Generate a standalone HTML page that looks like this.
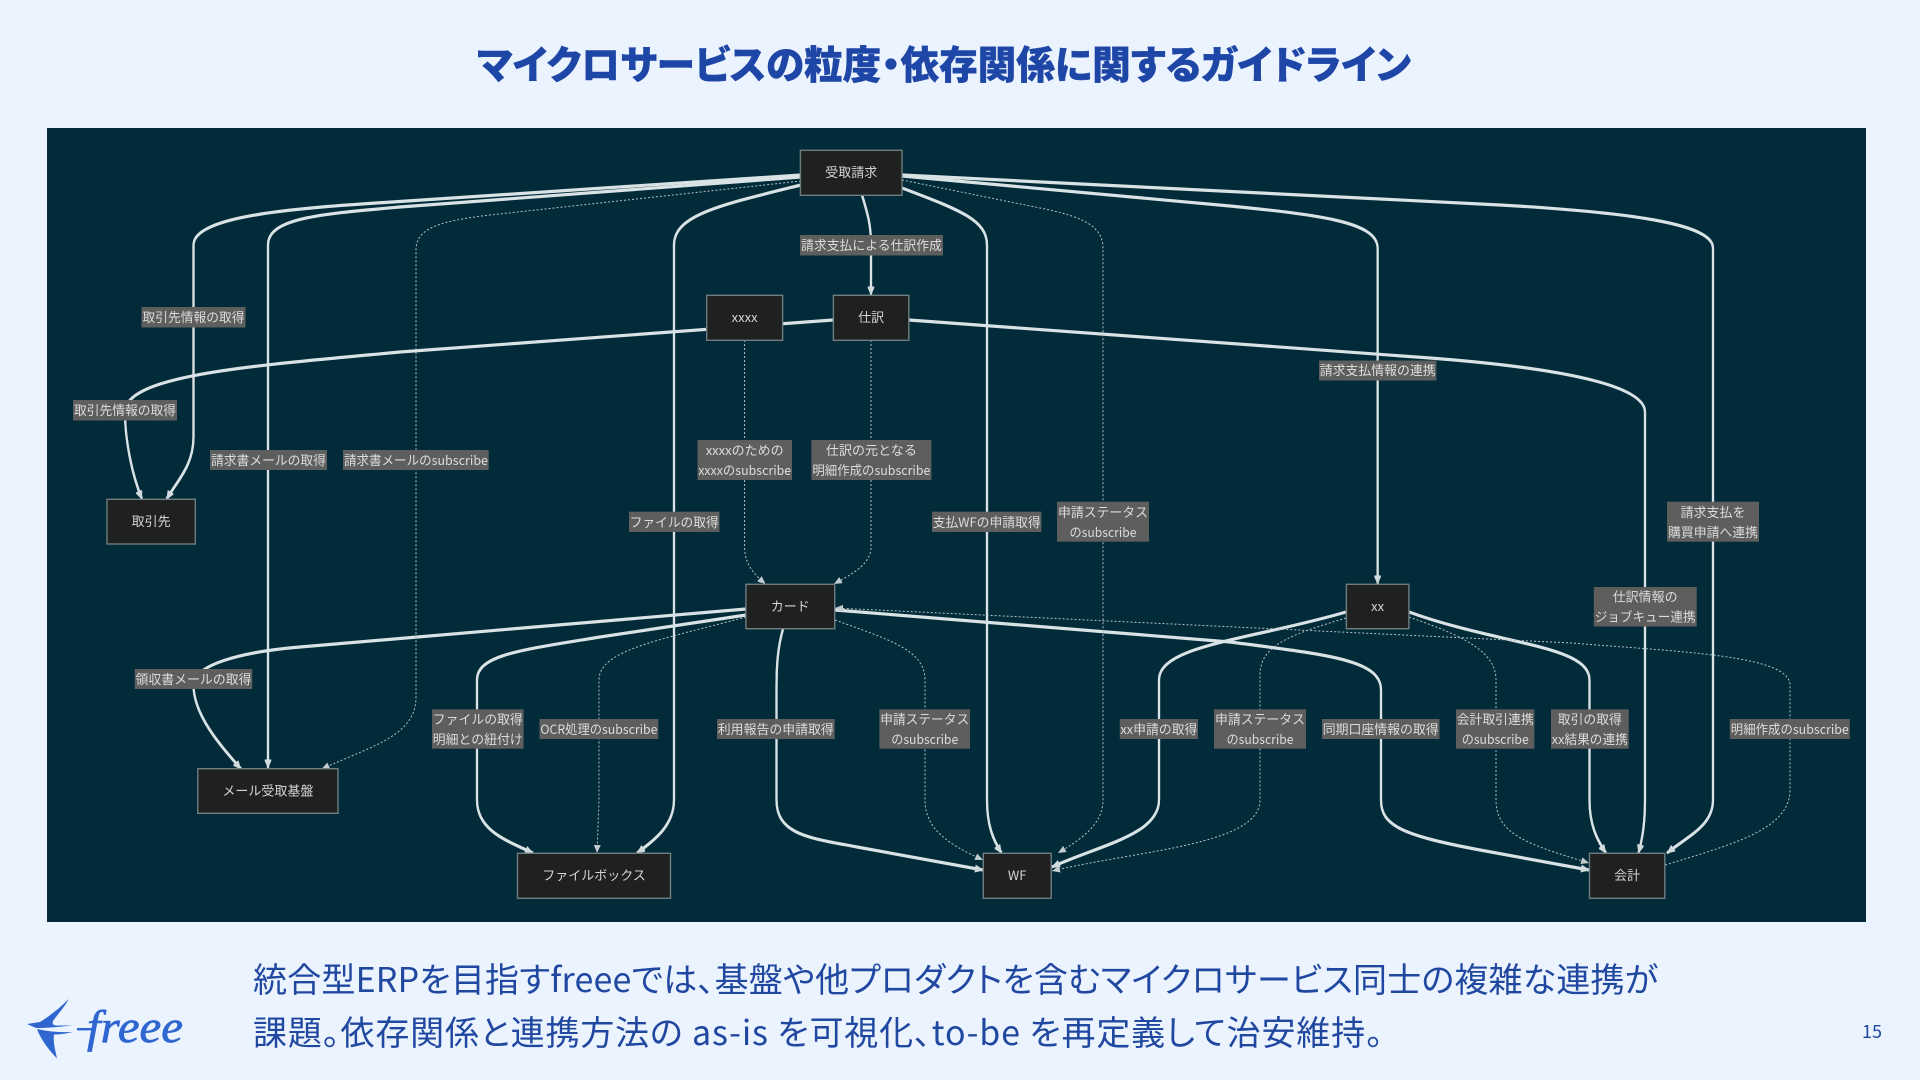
<!DOCTYPE html>
<html lang="ja"><head><meta charset="utf-8"><title>マイクロサービスの粒度・依存関係に関するガイドライン</title>
<style>
html,body{margin:0;padding:0;width:1920px;height:1080px;overflow:hidden;background:#eaf3fe}
svg{display:block}
text{font-family:"Noto Sans CJK JP","Liberation Sans",sans-serif}
.p{font-feature-settings:"palt"}
.s{fill:none;stroke:#d9e2e5;stroke-width:2.2}
.d{fill:none;stroke:#b4c2c6;stroke-width:1;stroke-dasharray:2 2}
.n rect{fill:#1f2020;stroke:#6f7d80;stroke-width:1.4}
.n text{fill:#d4d4d4;font-size:13px;text-anchor:middle}
.l rect{fill:#5e5e5e}
.l text{fill:#dcdcdc;font-size:13px;text-anchor:middle}
</style></head><body>
<svg width="1920" height="1080" viewBox="0 0 1920 1080" xmlns="http://www.w3.org/2000/svg">
<defs>
<marker id="a" markerUnits="userSpaceOnUse" markerWidth="10" markerHeight="10" refX="8" refY="4" orient="auto"><path d="M0 0.5L8 4L0 7.5Z" fill="#d0d9dc"/></marker>
<marker id="b" markerUnits="userSpaceOnUse" markerWidth="10" markerHeight="10" refX="8" refY="4" orient="auto"><path d="M0 0.5L8 4L0 7.5Z" fill="#c2cdd0"/></marker>
</defs>
<rect width="1920" height="1080" fill="#eaf3fe"/>
<text class="p" x="477" y="79" font-size="39" font-weight="900" fill="#1e46a6" stroke="#1e46a6" stroke-width="0.4" textLength="934" lengthAdjust="spacingAndGlyphs">マイクロサービスの粒度・依存関係に関するガイドライン</text>
<rect x="47" y="128" width="1819" height="794" fill="#022b39"/>

<g id="sol" marker-end="url(#a)" class="s" transform="translate(0,-0.5)">
<path class="s" d="M801 175L392 202C300 208 193.5 215 193.5 245V437C193.5 465 178 480 166.6 499"/>
<path class="s" d="M801 177L400 207C320 214 268 218 268 245V768"/>
<path class="s" d="M801 185C720 205 674 215 674 245V800C674 825 655 840 637 853"/>
<path class="s" d="M862 195C868 215 871 225 871 245V295"/>
<path class="s" d="M833 320L400 352C250 366 125 375 125 412C125 440 132 475 142 499"/>
<path class="s" d="M902 188C960 210 987 220 987 245V800C987 825 993 840 1001.6 853"/>
<path class="s" d="M902 176L1230 206C1320 215 1377.6 222 1377.6 248V584"/>
<path class="s" d="M902 175L1500 205C1640 213 1713 225 1713 248V800C1713 825 1690 835 1667 853"/>
<path class="s" d="M909 320L1430 358C1560 368 1645 385 1645 412V800C1645 825 1642 840 1638.5 853"/>
<path class="s" d="M746 609L300 647C240 652 193.5 665 193.5 685C193.5 715 220 745 241 769"/>
<path class="s" d="M746 615L600 637C520 650 477 655 477 680V800C477 830 505 840 533 853"/>
<path class="s" d="M783 629C777 650 776.5 670 776.5 690V800C776.5 835 810 838 857 847L983 870"/>
<path class="s" d="M835 610L1230 642C1330 655 1381 660 1381 690V800C1381 825 1400 835 1480 850L1589 870"/>
<path class="s" d="M1346 612C1250 640 1159 645 1159 680V800C1159 835 1100 845 1052 867"/>
<path class="s" d="M1409 612C1500 645 1589.5 645 1589.5 680V800C1589.5 825 1597 840 1606 853"/>
</g>
<use href="#sol" transform="translate(0,1)"/>
<g marker-end="url(#b)" class="d">
<path class="d" d="M801 181L490 215C440 221 416 228 416 250V697C416 735 375 745 321.5 769"/>
<path class="d" d="M902 180L1040 208C1080 216 1103 225 1103 248V800C1103 825 1080 840 1058 853"/>
<path class="d" d="M744.6 340V547C744.6 565 755 575 765.5 584"/>
<path class="d" d="M871 340V547C871 565 850 575 834 584"/>
<path class="d" d="M746 617C660 640 599 650 599 680V800L597 853"/>
<path class="d" d="M835 620C890 640 925 650 925 680V800C925 830 950 845 983 860"/>
<path class="d" d="M1346 618C1290 635 1260 645 1260 675V800C1260 845 1140 850 1052 871"/>
<path class="d" d="M1409 617C1460 635 1496 650 1496 680V800C1496 835 1530 845 1589 863"/>
<path class="d" d="M1665 865C1730 845 1790 830 1790 790V685C1790 655 1680 652 1572 643L835 608"/>
</g>

<g class="l">
<rect x="141.5" y="307" width="104" height="20.5"/><text x="193.5" y="322" textLength="102" lengthAdjust="spacingAndGlyphs">取引先情報の取得</text>
<rect x="73" y="400" width="104" height="20.5"/><text x="125" y="415" textLength="102" lengthAdjust="spacingAndGlyphs">取引先情報の取得</text>
<rect x="210" y="450" width="117" height="20"/><text x="268.5" y="465" textLength="115" lengthAdjust="spacingAndGlyphs">請求書メールの取得</text>
<rect x="343" y="450" width="145.7" height="20"/><text x="416" y="465" textLength="144" lengthAdjust="spacingAndGlyphs">請求書メールのsubscribe</text>
<rect x="800" y="235" width="143" height="20.5"/><text x="871.5" y="250" textLength="141" lengthAdjust="spacingAndGlyphs">請求支払による仕訳作成</text>
<rect x="697.5" y="440" width="94.5" height="40"/><text x="744.7" y="455" textLength="78" lengthAdjust="spacingAndGlyphs">xxxxのための</text><text x="744.7" y="475" textLength="93" lengthAdjust="spacingAndGlyphs">xxxxのsubscribe</text>
<rect x="811.4" y="440" width="120" height="40"/><text x="871.4" y="455" textLength="91" lengthAdjust="spacingAndGlyphs">仕訳の元となる</text><text x="871.4" y="475" textLength="118" lengthAdjust="spacingAndGlyphs">明細作成のsubscribe</text>
<rect x="629" y="511.7" width="90.5" height="20.3"/><text x="674.2" y="527" textLength="89" lengthAdjust="spacingAndGlyphs">ファイルの取得</text>
<rect x="932" y="511.7" width="109.4" height="20.3"/><text x="986.7" y="527" textLength="108" lengthAdjust="spacingAndGlyphs">支払WFの申請取得</text>
<rect x="1057" y="501.7" width="92" height="40"/><text x="1103" y="517" textLength="90" lengthAdjust="spacingAndGlyphs">申請ステータス</text><text x="1103" y="537" textLength="67" lengthAdjust="spacingAndGlyphs">のsubscribe</text>
<rect x="1667" y="501.7" width="92" height="40"/><text x="1713" y="517" textLength="65" lengthAdjust="spacingAndGlyphs">請求支払を</text><text x="1713" y="537" textLength="90" lengthAdjust="spacingAndGlyphs">購買申請へ連携</text>
<rect x="1319" y="360.5" width="117.4" height="20"/><text x="1377.7" y="375" textLength="116" lengthAdjust="spacingAndGlyphs">請求支払情報の連携</text>
<rect x="1593.8" y="587" width="102.9" height="39.5"/><text x="1645.2" y="601.5" textLength="65" lengthAdjust="spacingAndGlyphs">仕訳情報の</text><text x="1645.2" y="621.5" textLength="101" lengthAdjust="spacingAndGlyphs">ジョブキュー連携</text>
<rect x="134.7" y="669" width="117.6" height="20"/><text x="193.5" y="684" textLength="116" lengthAdjust="spacingAndGlyphs">領収書メールの取得</text>
<rect x="432" y="709.3" width="91.6" height="39.4"/><text x="477.8" y="724" textLength="90" lengthAdjust="spacingAndGlyphs">ファイルの取得</text><text x="477.8" y="744" textLength="90" lengthAdjust="spacingAndGlyphs">明細との紐付け</text>
<rect x="539.5" y="719" width="118.8" height="20"/><text x="598.9" y="734" textLength="117" lengthAdjust="spacingAndGlyphs">OCR処理のsubscribe</text>
<rect x="717" y="719" width="117.7" height="20"/><text x="775.8" y="734" textLength="116" lengthAdjust="spacingAndGlyphs">利用報告の申請取得</text>
<rect x="879.4" y="709.3" width="90.6" height="39.4"/><text x="924.7" y="724" textLength="89" lengthAdjust="spacingAndGlyphs">申請ステータス</text><text x="924.7" y="744" textLength="67" lengthAdjust="spacingAndGlyphs">のsubscribe</text>
<rect x="1119.8" y="719" width="78.2" height="20"/><text x="1158.9" y="734" textLength="77" lengthAdjust="spacingAndGlyphs">xx申請の取得</text>
<rect x="1214" y="709.3" width="92" height="39.4"/><text x="1260" y="724" textLength="90" lengthAdjust="spacingAndGlyphs">申請ステータス</text><text x="1260" y="744" textLength="67" lengthAdjust="spacingAndGlyphs">のsubscribe</text>
<rect x="1322" y="719" width="117.5" height="20"/><text x="1380.7" y="734" textLength="116" lengthAdjust="spacingAndGlyphs">同期口座情報の取得</text>
<rect x="1456" y="709.3" width="78.4" height="39.4"/><text x="1495.2" y="724" textLength="77" lengthAdjust="spacingAndGlyphs">会計取引連携</text><text x="1495.2" y="744" textLength="67" lengthAdjust="spacingAndGlyphs">のsubscribe</text>
<rect x="1551" y="709.3" width="77.7" height="39.4"/><text x="1589.8" y="724" textLength="64" lengthAdjust="spacingAndGlyphs">取引の取得</text><text x="1589.8" y="744" textLength="76" lengthAdjust="spacingAndGlyphs">xx結果の連携</text>
<rect x="1729.8" y="719" width="120" height="20"/><text x="1789.8" y="734" textLength="118" lengthAdjust="spacingAndGlyphs">明細作成のsubscribe</text>
</g>

<g class="n">
<rect x="800.4" y="150.3" width="101.6" height="45"/><text x="851.2" y="177">受取請求</text>
<rect x="706.7" y="295.3" width="75.9" height="45"/><text x="744.6" y="322">xxxx</text>
<rect x="833.4" y="295.3" width="75.4" height="45"/><text x="871.1" y="322">仕訳</text>
<rect x="107" y="499.3" width="88.3" height="44.7"/><text x="151.1" y="526">取引先</text>
<rect x="745.9" y="584.3" width="88.8" height="44.4"/><text x="790.3" y="611">カード</text>
<rect x="1346.4" y="584.3" width="62.5" height="44.4"/><text x="1377.6" y="611">xx</text>
<rect x="197.8" y="768.7" width="140.2" height="44.6"/><text x="267.9" y="795.5">メール受取基盤</text>
<rect x="517.5" y="853.3" width="153" height="45"/><text x="594" y="880">ファイルボックス</text>
<rect x="983.3" y="853.3" width="67.9" height="45"/><text x="1017.2" y="880">WF</text>
<rect x="1589.5" y="853.3" width="75.3" height="45"/><text x="1627.1" y="880">会計</text>
</g>

<g fill="#2f66d0">
<path d="M68.7 999C62 1006 50 1016 40 1022L27 1024L36 1028C46 1028 58 1027 73 1025.5L60 1025.5C53 1026 52 1024 53 1021C58 1014 66 1005 68.7 999Z"/>
<path d="M37 1029C41 1040 49 1050 57 1058.5C55 1049 53 1042 54 1034.5C60 1034.5 67 1033.5 73 1032C62 1032.5 50 1032 37 1029Z"/>
<rect x="77" y="1028" width="18" height="2.4"/>
</g>
<text x="87" y="1042" font-size="45" fill="#2f66d0" stroke="#2f66d0" stroke-width="0.7" style="font-family:'Liberation Serif',serif;font-style:italic" textLength="96" lengthAdjust="spacingAndGlyphs">freee</text>

<text class="p" x="253" y="992" font-size="34" fill="#2148a0" textLength="1405" lengthAdjust="spacing">統合型ERPを目指すfreeeでは、基盤や他プロダクトを含むマイクロサービス同士の複雑な連携が</text>
<text class="p" x="253" y="1045" font-size="34" fill="#2148a0" textLength="1130" lengthAdjust="spacing">課題。依存関係と連携方法の as-is を可視化、to-be を再定義して治安維持。</text>
<text x="1862" y="1038" font-size="18" fill="#2148a0">15</text>
</svg>
</body></html>
